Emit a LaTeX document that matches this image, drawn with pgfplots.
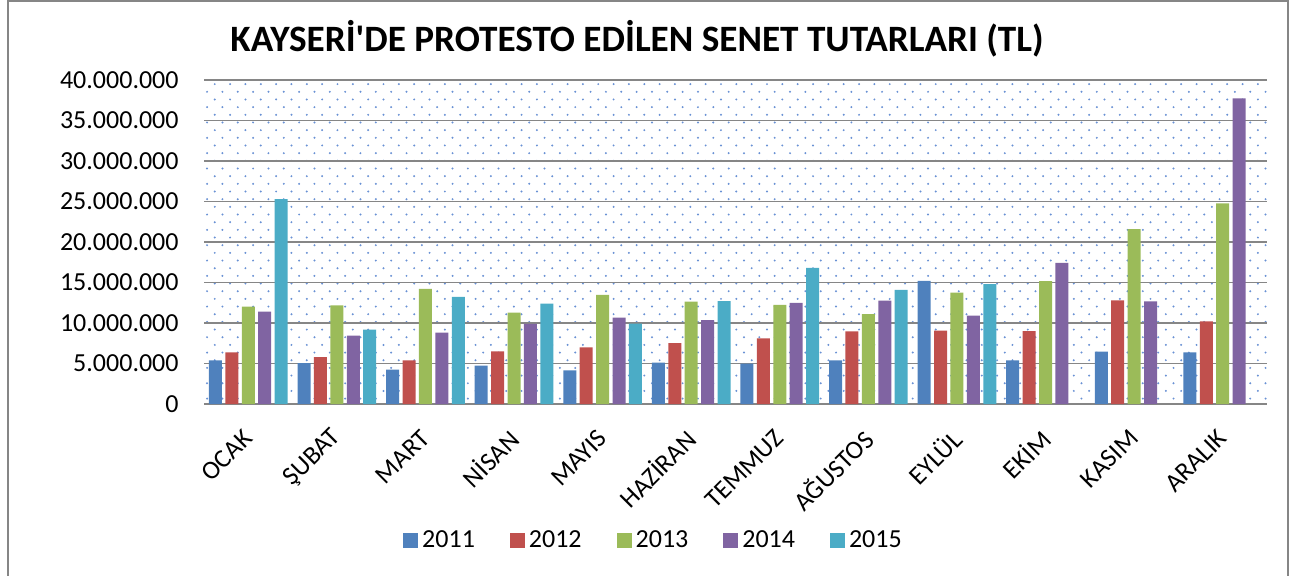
\documentclass[border=0pt]{standalone}
\usepackage{fontspec}
\setmainfont{Carlito}
\newfontfamily\titlefont{Carlito}
\usepackage{pgfplots}
\pgfplotsset{compat=1.18}
\usetikzlibrary{patterns}

\definecolor{c2011}{RGB}{79,129,189}
\definecolor{c2012}{RGB}{192,80,77}
\definecolor{c2013}{RGB}{155,187,89}
\definecolor{c2014}{RGB}{128,100,162}
\definecolor{c2015}{RGB}{75,172,198}
\definecolor{gridgray}{RGB}{134,134,134}
\definecolor{dotblue}{RGB}{105,145,212}

% excel style "dotted" background
\pgfdeclarepatternformonly{xldots}{\pgfqpoint{-1pt}{-1pt}}{\pgfqpoint{8.67pt}{8.67pt}}{\pgfqpoint{7.67pt}{7.67pt}}{
  \pgfpathcircle{\pgfqpoint{0pt}{0pt}}{0.55pt}
  \pgfpathcircle{\pgfqpoint{3.835pt}{3.835pt}}{0.55pt}
  \pgfusepath{fill}
}

\begin{document}
\begin{tikzpicture}
\useasboundingbox (0,0) rectangle (650.5pt,287.5pt);
\draw[gridgray, line width=1pt] (4pt,-5pt) -- (4pt,287pt) -- (644pt,287pt) -- (644pt,-5pt);
\node[font=\titlefont\fontsize{18.6}{22}\selectfont\bfseries] at (318.5pt,268pt)
  {KAYSERİ'DE PROTESTO EDİLEN SENET TUTARLARI (TL)};
\begin{axis}[
    at={(102pt,85.5pt)}, anchor=south west,
    scale only axis,
    width=531.5pt, height=162pt,
    ybar=1.71pt, bar width=6.5pt,
    xmin=-0.5, xmax=11.5,
    ymin=0, ymax=40000000,
    ytick={0,5000000,...,40000000},
    scaled y ticks=false,
    yticklabel style={/pgf/number format/fixed, /pgf/number format/1000 sep={.},
      font=\fontsize{13}{15}\selectfont, inner sep=0pt, xshift=-12.5pt},
    /pgf/number format/assume math mode=true,
    xtick={0,...,11},
    xticklabels={OCAK,ŞUBAT,MART,NİSAN,MAYIS,HAZİRAN,TEMMUZ,AĞUSTOS,EYLÜL,EKİM,KASIM,ARALIK},
    xticklabel style={font=\fontsize{13}{15}\selectfont, inner sep=0pt,
      xshift=0pt, yshift=-15pt, rotate=45, anchor=east},
    major tick length=0pt,
    ymajorgrids,
    grid style={gridgray, line width=0.8pt},
    axis y line*=left,
    y axis line style={draw=none},
    axis x line*=bottom,
    x axis line style={gridgray, line width=1pt, -},
    axis background/.style={pattern=xldots, pattern color=dotblue},
    legend columns=5,
    legend style={draw=none, fill=none, at={(0.4238,-0.4228)}, anchor=center,
      font=\fontsize{13}{15}\selectfont,
      /tikz/every even column/.append style={column sep=15.5pt}},
    legend image code/.code={\fill[#1] (0pt,-3.75pt) rectangle (7.5pt,3.75pt);},
]
\addplot[fill=c2011, draw=none] coordinates {
  (0,5380000) (1,5050000) (2,4230000) (3,4730000) (4,4150000) (5,5100000)
  (6,4970000) (7,5380000) (8,15200000) (9,5380000) (10,6460000) (11,6370000)};
\addplot[fill=c2012, draw=none] coordinates {
  (0,6370000) (1,5800000) (2,5380000) (3,6500000) (4,6990000) (5,7530000)
  (6,8100000) (7,8970000) (8,9050000) (9,9010000) (10,12800000) (11,10200000)};
\addplot[fill=c2013, draw=none] coordinates {
  (0,12030000) (1,12190000) (2,14200000) (3,11280000) (4,13470000) (5,12650000)
  (6,12230000) (7,11110000) (8,13760000) (9,15160000) (10,21600000) (11,24780000)};
\addplot[fill=c2014, draw=none] coordinates {
  (0,11400000) (1,8440000) (2,8810000) (3,9880000) (4,10670000) (5,10370000)
  (6,12480000) (7,12770000) (8,10910000) (9,17430000) (10,12680000) (11,37720000)};
\addplot[fill=c2015, draw=none] coordinates {
  (0,25300000) (1,9180000) (2,13220000) (3,12400000) (4,9920000) (5,12690000)
  (6,16800000) (7,14080000) (8,14790000)};
\legend{2011,2012,2013,2014,2015}
\end{axis}
\end{tikzpicture}
\end{document}
